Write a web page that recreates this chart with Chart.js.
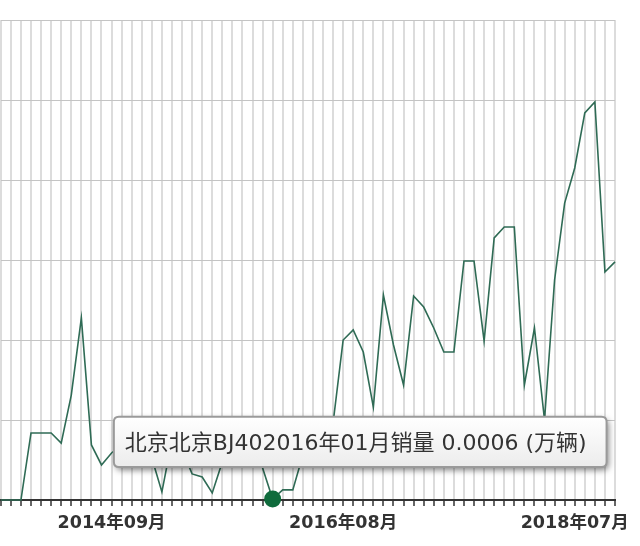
<!DOCTYPE html>
<html>
<head>
<meta charset="utf-8">
<script src="https://cdn.jsdelivr.net/npm/chart.js@4.4.1/dist/chart.umd.min.js"></script>
<style>
  html, body { margin: 0; padding: 0; background: #fff; }
  #wrap { width: 640px; height: 546px; }
</style>
</head>
<body>
<div id="wrap"><canvas id="salesChart" width="640" height="546"></canvas></div>
<script>
const seriesName = '北京北京BJ40';

const months = [
  '2013年10月', '2013年11月', '2013年12月',
  '2014年01月', '2014年02月', '2014年03月', '2014年04月', '2014年05月', '2014年06月',
  '2014年07月', '2014年08月', '2014年09月', '2014年10月', '2014年11月', '2014年12月',
  '2015年01月', '2015年02月', '2015年03月', '2015年04月', '2015年05月', '2015年06月',
  '2015年07月', '2015年08月', '2015年09月', '2015年10月', '2015年11月', '2015年12月',
  '2016年01月', '2016年02月', '2016年03月', '2016年04月', '2016年05月', '2016年06月',
  '2016年07月', '2016年08月', '2016年09月', '2016年10月', '2016年11月', '2016年12月',
  '2017年01月', '2017年02月', '2017年03月', '2017年04月', '2017年05月', '2017年06月',
  '2017年07月', '2017年08月', '2017年09月', '2017年10月', '2017年11月', '2017年12月',
  '2018年01月', '2018年02月', '2018年03月', '2018年04月', '2018年05月', '2018年06月',
  '2018年07月', '2018年08月', '2018年09月', '2018年10月', '2018年11月'
];

// 销量 (万辆)
const sales = [
  0, 0, 0,
  0.0419, 0.0419, 0.0419, 0.0356, 0.0656, 0.1138,
  0.0344, 0.0219, 0.0294, 0.0344, 0.0375, 0.0313,
  0.0263, 0.0050, 0.0375, 0.0313, 0.0163, 0.0144,
  0.0044, 0.0238, 0.0344, 0.0313, 0.0375, 0.0200,
  0.0006, 0.0063, 0.0063, 0.0281, 0.0375, 0.0425,
  0.0481, 0.1000, 0.1063, 0.0925, 0.0581, 0.1281,
  0.0969, 0.0719, 0.1275, 0.1206, 0.1075, 0.0925,
  0.0925, 0.1494, 0.1494, 0.0994, 0.1638, 0.1706,
  0.1706, 0.0719, 0.1075, 0.0500, 0.1375, 0.1856,
  0.2075, 0.2419, 0.2488, 0.1425, 0.1488
];

const tickLabels = ['2014年09月', '2016年08月', '2018年07月'];
const activeMonth = '2016年01月';

const fontStack = '"DejaVu Sans", "Noto Sans CJK SC", sans-serif';

Chart.Tooltip.positioners.aboveRight = function (items) {
  if (!items.length) return false;
  const el = items[0].element;
  return { x: el.x + 88, y: el.y - 32, xAlign: 'center', yAlign: 'bottom' };
};

// soft box + drop shadow behind the tooltip
const tooltipShadow = {
  id: 'tooltipShadow',
  beforeTooltipDraw(chart, args) {
    const t = args.tooltip;
    if (!t.opacity) return;
    const ctx = chart.ctx;
    ctx.save();
    ctx.shadowColor = 'rgba(0,0,0,0.5)';
    ctx.shadowBlur = 6;
    ctx.shadowOffsetX = 2;
    ctx.shadowOffsetY = 3;
    const g = ctx.createLinearGradient(0, t.y, 0, t.y + t.height);
    g.addColorStop(0, '#ffffff');
    g.addColorStop(1, '#ececec');
    ctx.fillStyle = g;
    ctx.beginPath();
    ctx.roundRect(t.x, t.y, t.width, t.height, 5);
    ctx.fill();
    ctx.restore();
  }
};

const ctx = document.getElementById('salesChart').getContext('2d');
const chart = new Chart(ctx, {
  type: 'line',
  data: {
    labels: months,
    datasets: [{
      label: seriesName,
      data: sales,
      borderColor: '#2f6b55',
      borderWidth: 1.6,
      tension: 0,
      pointRadius: 0,
      pointHoverRadius: 8.5,
      pointHoverBorderWidth: 0,
      pointHoverBackgroundColor: '#0f6b3c',
      clip: false
    }]
  },
  options: {
    responsive: false,
    animation: false,
    events: [],
    layout: { padding: { top: 20, right: 25, left: 0, bottom: 5 } },
    plugins: {
      legend: { display: false },
      tooltip: {
        position: 'aboveRight',
        displayColors: false,
        backgroundColor: 'rgba(0,0,0,0)',
        borderColor: '#9a9a9a',
        borderWidth: 2,
        cornerRadius: 5,
        caretSize: 0,
        caretPadding: 0,
        padding: { left: 11, right: 20, top: 14, bottom: 10 },
        bodyColor: '#333',
        bodyFont: { family: fontStack, size: 22 },
        callbacks: {
          title: () => [],
          label: (item) => `${seriesName}${item.label}销量 ${item.raw.toFixed(4)} (万辆)`
        }
      }
    },
    scales: {
      x: {
        offset: false,
        grid: {
          color: '#dcdcdc',
          lineWidth: 2,
          tickLength: 6,
          tickColor: '#333',
          tickWidth: 1.5
        },
        border: { color: '#333', width: 2 },
        ticks: {
          autoSkip: false,
          maxRotation: 0,
          padding: 7,
          color: '#333',
          font: { family: fontStack, size: 17.5, weight: 'bold' },
          callback: function (value) {
            const lab = this.getLabelForValue(value);
            return tickLabels.includes(lab) ? lab : '';
          }
        },
        afterFit: (scale) => {
          scale.paddingLeft = 0;
          scale.paddingRight = 0;
        }
      },
      y: {
        min: 0,
        max: 0.3,
        ticks: { stepSize: 0.05, display: false },
        grid: { color: '#c4c4c4', lineWidth: 1, drawTicks: false },
        border: { display: false },
        afterFit: (scale) => { scale.width = 0; }
      }
    }
  },
  plugins: [tooltipShadow]
});

const idx = months.indexOf(activeMonth);
chart.setActiveElements([{ datasetIndex: 0, index: idx }]);
chart.tooltip.setActiveElements([{ datasetIndex: 0, index: idx }], { x: 0, y: 0 });
chart.update();
</script>
</body>
</html>
